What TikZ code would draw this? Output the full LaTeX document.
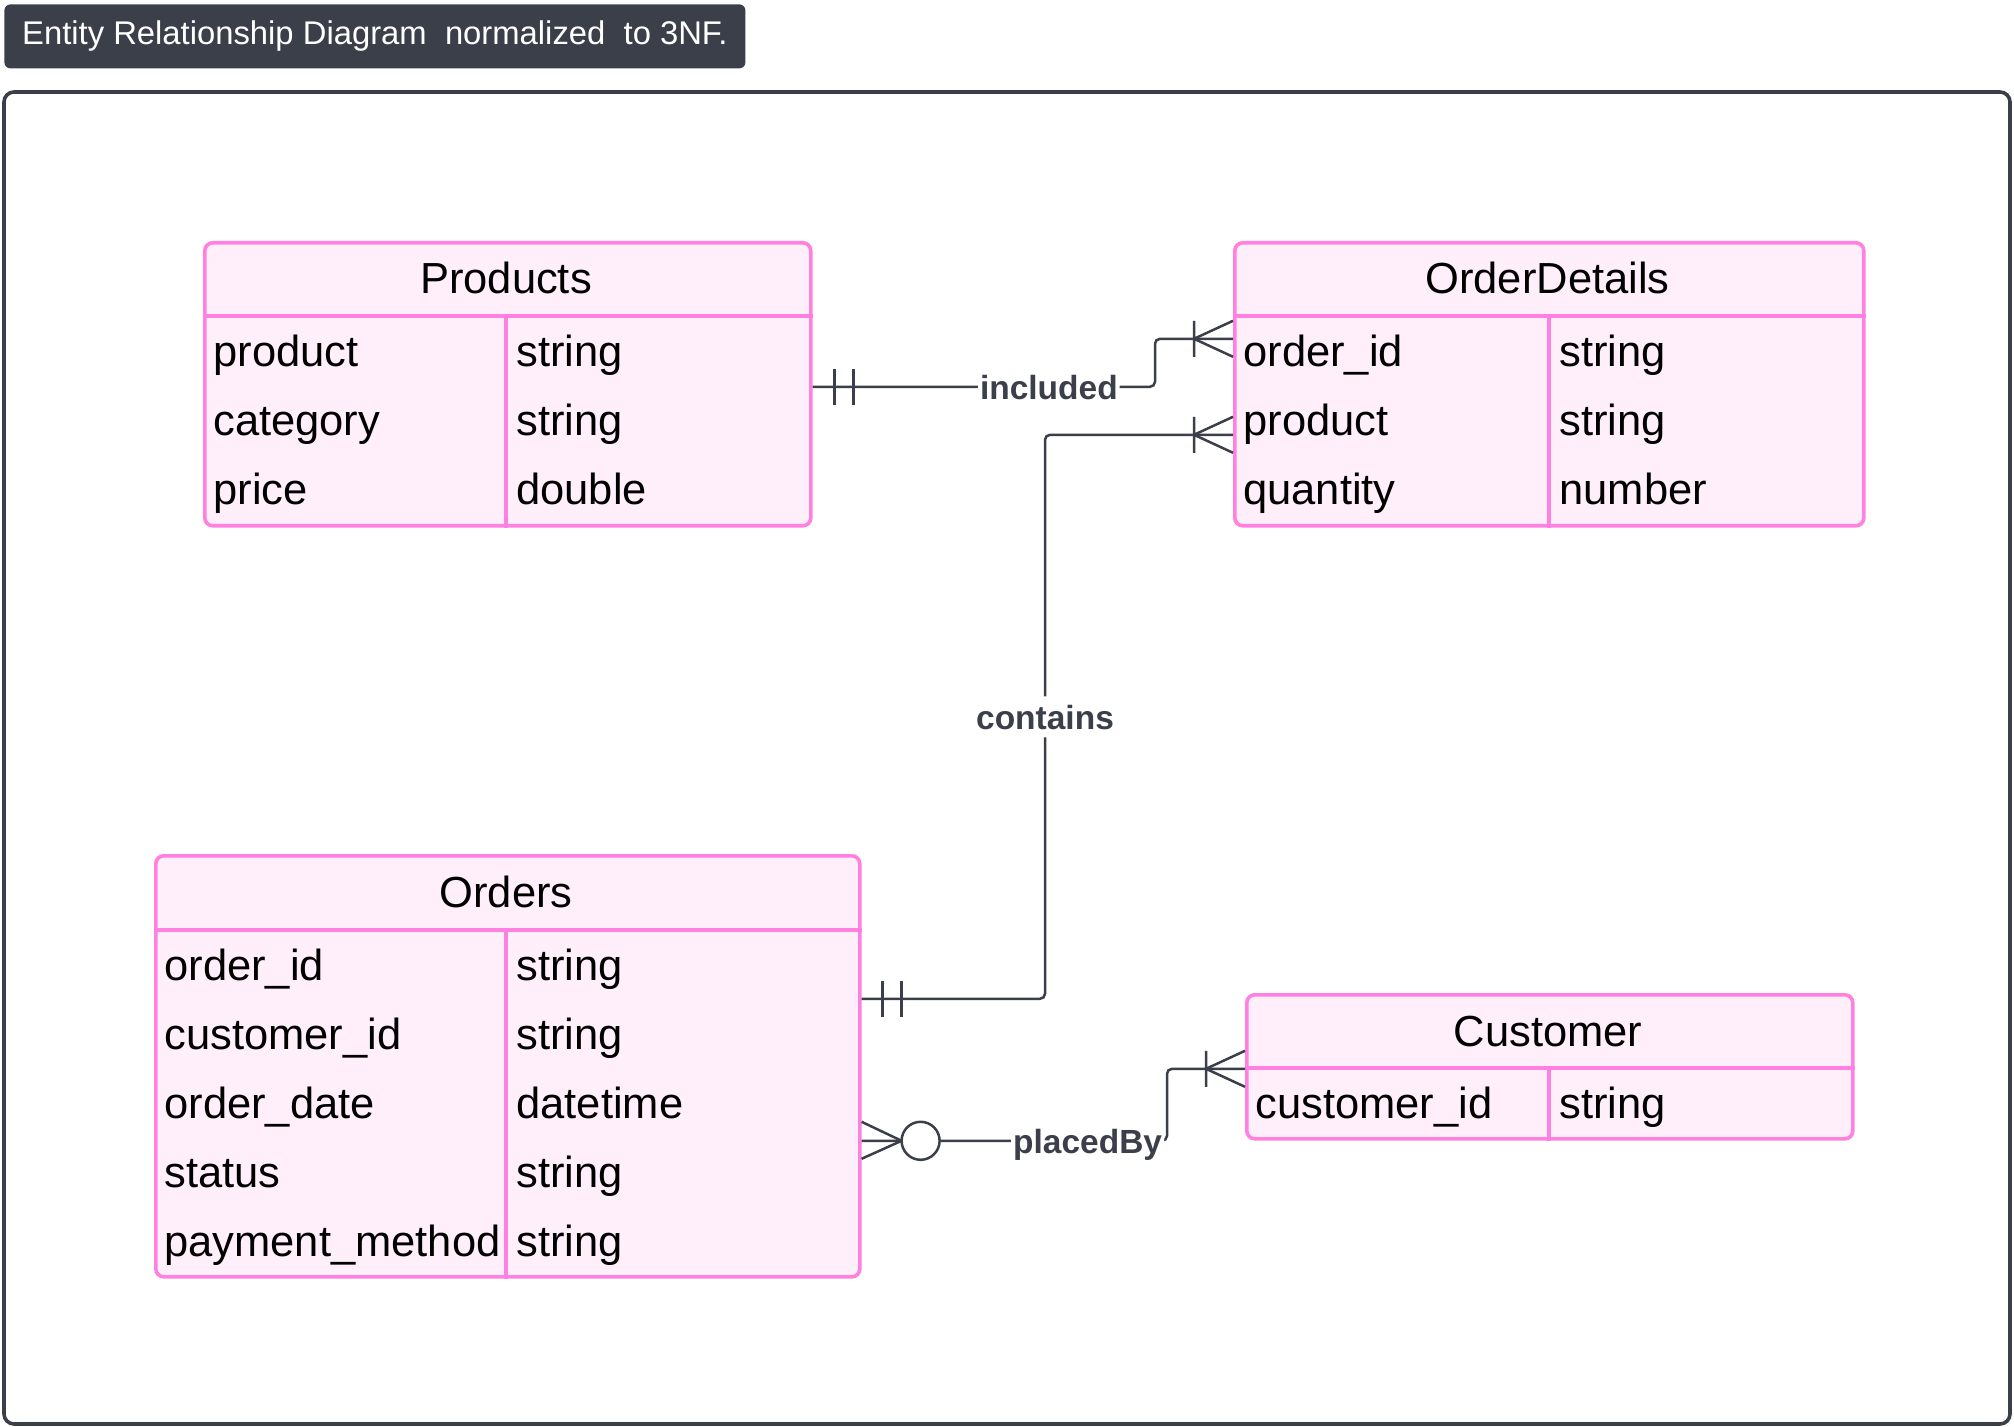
\documentclass[tikz,border=0pt]{standalone}
\usepackage{fontspec}
\setmainfont{Liberation Sans}
\definecolor{erpink}{HTML}{FF80E0}
\definecolor{erfill}{HTML}{FFEFFA}
\definecolor{erdark}{HTML}{3A3F4A}

\begin{document}
\begin{tikzpicture}[
  x=0.5pt, y=-0.5pt,
  caption/.style={anchor=north west, fill=erdark, text=white, rounded corners=3pt,
                  minimum width=370.5pt, minimum height=32pt, inner sep=0pt,
                  font=\fontsize{16.4}{20}\selectfont},
  frame/.style={draw=erdark, line width=1.8pt, rounded corners=5pt},
  entity/.style={draw=erpink, fill=erfill, line width=1.8pt, rounded corners=4pt,
                 anchor=north west, inner sep=0pt},
  rule/.style={draw=erpink, line width=1.8pt},
  head/.style={anchor=base, inner sep=0pt, font=\fontsize{21.75}{26}\selectfont},
  field/.style={anchor=base west, inner sep=0pt, font=\fontsize{21.75}{26}\selectfont},
  rel/.style={draw=erdark, line width=1.25pt, rounded corners=2.5pt},
  cfoot/.style={draw=erdark, line width=1.25pt},
  lbl/.style={fill=white, text=erdark, inner xsep=1pt, inner ysep=4pt,
              text height=12.5pt, text depth=0pt,
              font=\bfseries\fontsize{16.75}{20}\selectfont}
]
\useasboundingbox (0,0) rectangle (2014,1427);

% caption and frame
\node[caption] (caption) at (4,4) {Entity Relationship Diagram~ normalized~ to 3NF.};
\draw[frame] (4,92) rectangle (2010,1424);

% Products
\node[entity, minimum width=303pt, minimum height=141.5pt] (products) at (203,241) {};
\node[head] (productsh) at (506,294) {Products};
\draw[rule] (products.west |- 0,316) -- (products.east |- 0,316);
\draw[rule] (506,316) -- (506,0 |- products.south);
\foreach \f/\t [count=\i] in {product/string, category/string, price/double} {
  \node[field] (pf\i) at (213,{297.5+69*\i}) {\f};
  \node[field] (pt\i) at (516,{297.5+69*\i}) {\t};
}

% OrderDetails
\node[entity, minimum width=314.5pt, minimum height=141.5pt] (odetails) at (1233,241) {};
\node[head] (odetailsh) at (1547.5,294) {OrderDetails};
\draw[rule] (odetails.west |- 0,316) -- (odetails.east |- 0,316);
\draw[rule] (1549,316) -- (1549,0 |- odetails.south);
\foreach \f/\t [count=\i] in {order\_id/string, product/string, quantity/number} {
  \node[field] (df\i) at (1243,{297.5+69*\i}) {\f};
  \node[field] (dt\i) at (1559,{297.5+69*\i}) {\t};
}

% Orders
\node[entity, minimum width=352pt, minimum height=210.5pt] (orders) at (154,854) {};
\node[head] (ordersh) at (506,907.5) {Orders};
\draw[rule] (orders.west |- 0,930) -- (orders.east |- 0,930);
\draw[rule] (506,930) -- (506,0 |- orders.south);
\foreach \f/\t [count=\i] in {order\_id/string, customer\_id/string,
    order\_date/datetime, status/string, payment\_method/string} {
  \node[field] (of\i) at (164,{911.5+69*\i}) {\f};
  \node[field] (ot\i) at (516,{911.5+69*\i}) {\t};
}

% Customer
\node[entity, minimum width=303pt, minimum height=72pt] (customer) at (1245,993) {};
\node[head] (customerh) at (1548,1046) {Customer};
\draw[rule] (customer.west |- 0,1068) -- (customer.east |- 0,1068);
\draw[rule] (1549,1068) -- (1549,0 |- customer.south);
\node[field] (cf1) at (1255,1118.5) {customer\_id};
\node[field] (ct1) at (1559,1118.5) {string};

% included
\coordinate (incA) at ([yshift=-1.25pt]products.east);
\coordinate (incB) at ([yshift=22.75pt]odetails.west);
\draw[rel] (incA) -- node[lbl, pos=.69] (inclbl) {included} (1155,0 |- incA)
    -- (1155,0 |- incB) -- (incB);
\draw[cfoot] (incA) ++(22,-18) -- ++(0,36) (incA) ++(41,-18) -- ++(0,36);
\draw[cfoot] (incB) ++(0,-18) -- ++(-39,18) -- ++(39,18) (incB) ++(-39,-18) -- ++(0,36);

% contains
\coordinate (conA) at ([yshift=33.75pt]orders.east);
\coordinate (conB) at ([yshift=-25.25pt]odetails.west);
\draw[rel] (conA) -- (1045,0 |- conA) -- node[lbl, pos=.5] (conlbl) {contains}
    (1045,0 |- conB) -- (conB);
\draw[cfoot] (conA) ++(21,-18) -- ++(0,36) (conA) ++(40,-18) -- ++(0,36);
\draw[cfoot] (conB) ++(0,-18) -- ++(-39,18) -- ++(39,18) (conB) ++(-39,-18) -- ++(0,36);

% placedBy
\coordinate (plcA) at ([yshift=-37.25pt]orders.east);
\coordinate (plcB) at ([yshift=-1pt]customer.west);
\draw[rel] (plcA) -- node[lbl, pos=.74] (plclbl) {placedBy} (1167,0 |- plcA)
    -- (1167,0 |- plcB) -- (plcB);
\draw[cfoot] (plcA) ++(0,-19) -- ++(40,19) -- ++(-40,18);
\draw[cfoot, fill=white] (plcA) ++(59,0) circle[radius=9.5pt];
\draw[cfoot] (plcB) ++(0,-18) -- ++(-39,18) -- ++(39,18) (plcB) ++(-39,-18) -- ++(0,36);
\end{tikzpicture}
\end{document}
